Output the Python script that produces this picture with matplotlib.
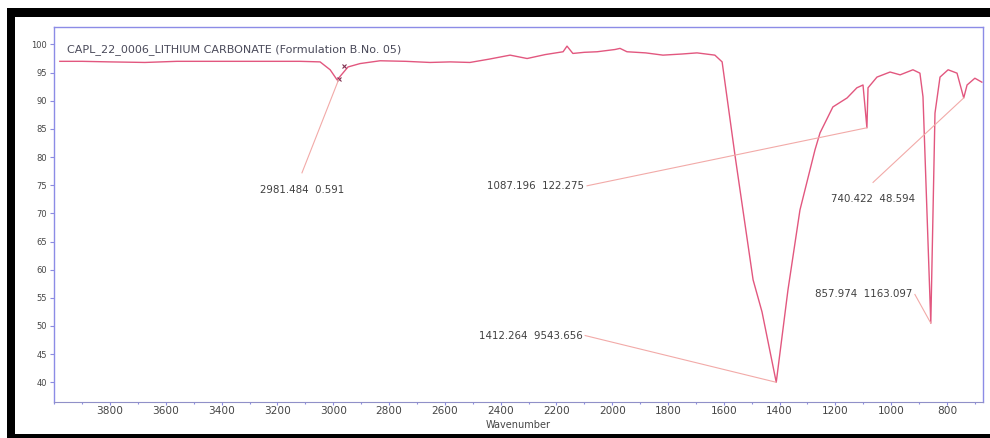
import matplotlib.pyplot as plt
from matplotlib.patches import Rectangle
from matplotlib.ticker import MultipleLocator

# IR spectrum, transmittance (%) against wavenumber (cm-1)
wavenumber = [3980, 3900, 3800, 3675, 3560, 3478, 3380, 3298, 3200, 3119, 3047, 3011,
              2986, 2947, 2904, 2832, 2740, 2653, 2580, 2510, 2440, 2366, 2305, 2240,
              2176, 2162, 2141, 2100, 2054, 1990, 1972, 1947, 1880, 1818, 1750, 1696,
              1632, 1606, 1559, 1495, 1463, 1412, 1370, 1327, 1273, 1255, 1209, 1158,
              1123, 1101, 1087, 1083, 1051, 1004, 968, 922, 897, 886, 858, 843,
              825, 796, 764, 740, 728, 700, 675]
transmittance = [97.0, 97.0, 96.9, 96.8, 97.0, 97.0, 97.0, 97.0, 97.0, 97.0, 96.9, 95.5,
                 93.7, 96.0, 96.6, 97.1, 97.0, 96.8, 96.9, 96.8, 97.4, 98.1, 97.5, 98.2,
                 98.7, 99.7, 98.4, 98.6, 98.7, 99.1, 99.3, 98.7, 98.5, 98.1, 98.3, 98.5,
                 98.1, 96.9, 80.0, 58.2, 52.5, 40.0, 56.4, 70.6, 81.3, 84.3, 88.9, 90.5,
                 92.3, 92.8, 85.2, 92.3, 94.2, 95.1, 94.6, 95.5, 94.9, 90.7, 50.5, 87.8,
                 94.2, 95.5, 94.9, 90.5, 92.8, 94.0, 93.3]

# peak labels: text, label anchor (wavenumber, %T), peak position (wavenumber, %T)
peak_text = ["2981.484  0.591", "1087.196  122.275", "1412.264  9543.656",
             "740.422  48.594", "857.974  1163.097"]
peak_label_xy = [(3112, 75.9), (2090, 74.9), (2097, 48.3), (1065, 74.2), (915, 55.6)]
peak_point_xy = [(2981, 93.7), (1087, 85.2), (1412, 40.0), (740, 90.5), (858, 50.5)]
peak_ha = ["center", "right", "right", "center", "right"]

x_ticks = list(range(3800, 799, -200))
y_ticks = list(range(40, 101, 5))

title = "CAPL_22_0006_LITHIUM CARBONATE (Formulation B.No. 05)"

plt.rcParams["font.family"] = ["DejaVu Sans"]

fig = plt.figure(figsize=(9.9, 4.38), dpi=100)
ax = fig.add_axes([0.0545, 0.0822, 0.9384, 0.8562])

ax.plot(wavenumber, transmittance, color="#e2577f", lw=1.0)
ax.plot([2981, 2960], [93.9, 96.1], ls="none", marker="x", ms=2.5, mew=0.8, color="#803050")

for txt, (lx, ly), (px, py), ha in zip(peak_text, peak_label_xy, peak_point_xy, peak_ha):
    ax.plot([lx, px], [ly + (1.3 if ha == "center" else 0), py], color="#f2aaa8", lw=0.8)
    if ha == "center":
        ax.text(lx, ly - 1.7, txt, ha="center", va="center", fontsize=7.4, color="#404040")
    else:
        # axis is reversed: a larger wavenumber sits further left
        ax.text(lx + 10, ly, txt, ha="right", va="center", fontsize=7.4, color="#404040")

ax.text(0.014, 0.94, title, transform=ax.transAxes, fontsize=8.0, color="#4a4a5a",
        va="center", ha="left")

ax.set_xlim(4001, 671)
ax.set_ylim(36.5, 103.1)
ax.set_xticks(x_ticks)
ax.set_yticks(y_ticks)
ax.xaxis.set_minor_locator(MultipleLocator(100))
ax.tick_params(axis="both", which="both", labelcolor="#454545",
               color="#8c8ce0", width=0.8)
ax.tick_params(axis="x", which="major", length=2, pad=1, labelsize=7.6)
ax.tick_params(axis="x", which="minor", length=1.5)
ax.tick_params(axis="y", length=3, pad=2, labelsize=6.0)
ax.set_xlabel("Wavenumber", fontsize=7.0, color="#454545", labelpad=3)

for side in ["left", "right", "top"]:
    ax.spines[side].set_color("#8c8ce6")
    ax.spines[side].set_linewidth(1.0)
ax.spines["bottom"].set_color("#9090c8")
ax.spines["bottom"].set_linewidth(0.8)

# thick black frame around the chart
W, H = 990, 438
for x0, y0, w, h in [(7, 8, 983, 9), (7, 8, 8, 430), (7, 434, 983, 4)]:
    fig.add_artist(Rectangle((x0 / W, 1 - (y0 + h) / H), w / W, h / H,
                             transform=fig.transFigure, color="black", lw=0))

fig.savefig("out.png", dpi=100)
